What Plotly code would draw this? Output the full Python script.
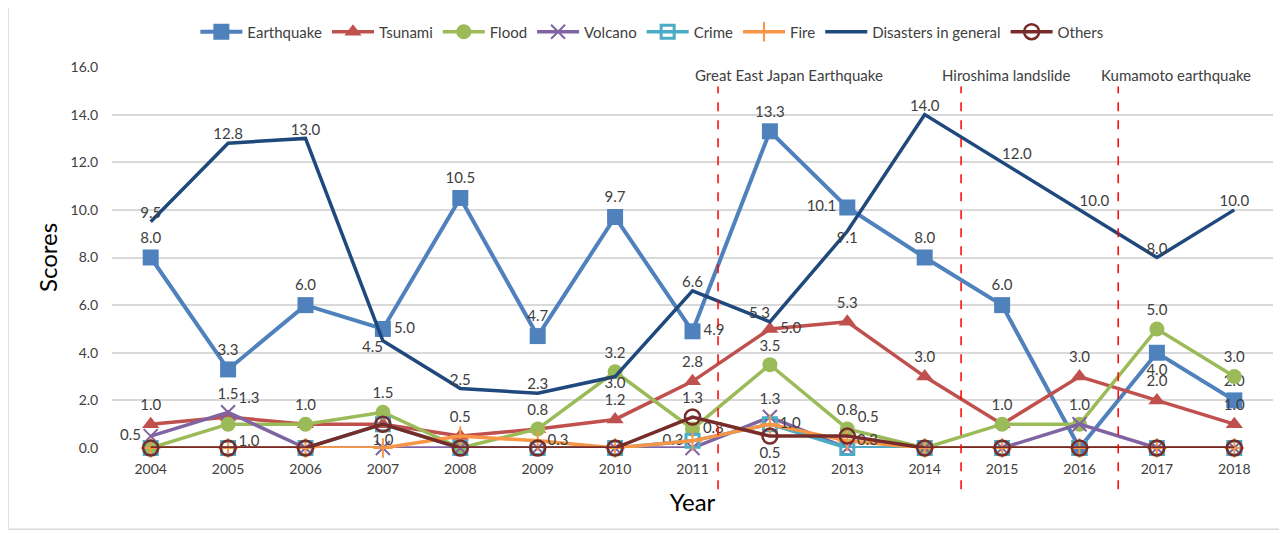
import plotly.graph_objects as go

years = list(range(2004, 2019))
earthquake = [8.0, 3.3, 6.0, 5.0, 10.5, 4.7, 9.7, 4.9, 13.3, 10.1, 8.0, 6.0, 0.0, 4.0, 2.0]
tsunami = [1.0, 1.3, 1.0, 1.0, 0.5, 0.8, 1.2, 2.8, 5.0, 5.3, 3.0, 1.0, 3.0, 2.0, 1.0]
flood = [0.0, 1.0, 1.0, 1.5, 0.0, 0.8, 3.2, 0.8, 3.5, 0.8, 0.0, 1.0, 1.0, 5.0, 3.0]
volcano = [0.5, 1.5, 0.0, 0.0, 0.0, 0.0, 0.0, 0.0, 1.3, 0.0, 0.0, 0.0, 1.0, 0.0, 0.0]
crime = [0.0, 0.0, 0.0, 1.0, 0.0, 0.0, 0.0, 0.3, 1.0, 0.0, 0.0, 0.0, 0.0, 0.0, 0.0]
fire = [0.0, 0.0, 0.0, 0.0, 0.5, 0.3, 0.0, 0.3, 1.0, 0.3, 0.0, 0.0, 0.0, 0.0, 0.0]
disasters = [9.5, 12.8, 13.0, 4.5, 2.5, 2.3, 3.0, 6.6, 5.3, 9.1, 14.0, 12.0, 10.0, 8.0, 10.0]
others = [0.0, 0.0, 0.0, 1.0, 0.0, 0.0, 0.0, 1.3, 0.5, 0.5, 0.0, 0.0, 0.0, 0.0, 0.0]

events = ["Great East Japan Earthquake", "Hiroshima landslide", "Kumamoto earthquake"]
event_x = [2011.33, 2014.47, 2016.5]
event_label_x = [2012.25, 2015.05, 2017.25]

FONT = "Lato"
TXT = "#404040"

# label positions (style): year -> textposition
lab = {
    "Earthquake": {2004: "top center", 2005: "top center", 2006: "top center", 2007: "middle right",
                   2008: "top center", 2009: "top center", 2010: "top center", 2011: "middle right",
                   2012: "top center", 2013: "middle left", 2014: "top center", 2015: "top center",
                   2017: "bottom center", 2018: "top center"},
    "Tsunami": {2004: "top center", 2005: "top right", 2008: "top center", 2010: "top center",
                2011: "top center", 2012: "middle right", 2013: "top center", 2014: "top center",
                2015: "top center", 2016: "top center", 2017: "top center", 2018: "top center"},
    "Flood": {2005: "bottom right", 2006: "top center", 2007: "top center", 2009: "top center",
              2010: "top center", 2011: "middle right", 2012: "top center", 2013: "top center",
              2016: "top center", 2017: "top center", 2018: "top center"},
    "Volcano": {2004: "middle left", 2005: "top center", 2012: "top center"},
    "Crime": {2007: "bottom center", 2011: "middle left"},
    "Fire": {2009: "middle right", 2012: "middle right", 2013: "middle right"},
    "Disasters in general": {2004: "top center", 2005: "top center", 2006: "top center",
                             2007: "bottom left", 2008: "top center", 2009: "top center",
                             2010: "bottom center", 2011: "top center", 2012: "top left",
                             2013: "bottom center", 2014: "top center", 2015: "top right",
                             2016: "top right", 2017: "top center", 2018: "top center"},
    "Others": {2011: "top center", 2012: "bottom center", 2013: "top right"},
}

series = [
    ("Earthquake", earthquake, "#4F81BD", dict(symbol="square", size=16, color="#4F81BD"), 4),
    ("Tsunami", tsunami, "#C0504D", dict(symbol="triangle-up", size=15, color="#C0504D"), 3.5),
    ("Flood", flood, "#9BBB59", dict(symbol="circle", size=15, color="#9BBB59"), 3.5),
    ("Volcano", volcano, "#8064A2", dict(symbol="x-thin", size=14, line=dict(color="#8064A2", width=2)), 3.5),
    ("Crime", crime, "#4BACC6", dict(symbol="square-open", size=13, color="#4BACC6", line=dict(width=3)), 3.5),
    ("Fire", fire, "#F79646", dict(symbol="cross-thin", size=14, line=dict(color="#F79646", width=2)), 3.5),
    ("Disasters in general", disasters, "#1F497D", None, 3.5),
    ("Others", others, "#772C2A", dict(symbol="circle-open", size=15, color="#772C2A", line=dict(width=2.5)), 3.5),
]

fig = go.Figure()
for name, vals, color, marker, lw in series:
    pos = lab[name]
    text = [f"{v:.1f}" if y in pos else "" for y, v in zip(years, vals)]
    tpos = [pos.get(y, "top center") for y in years]
    kw = dict(mode="lines+markers+text", marker=marker) if marker else dict(mode="lines+text")
    fig.add_trace(go.Scatter(
        x=years, y=vals, name=name, line=dict(color=color, width=lw),
        text=text, textposition=tpos, textfont=dict(family=FONT, size=15, color=TXT),
        cliponaxis=False, **kw))

shapes = []
for ex in event_x:
    shapes.append(dict(type="line", xref="x", yref="paper", x0=ex, x1=ex, y0=-0.108, y1=0.958,
                       line=dict(color="#FF0000", width=1.5, dash="dash")))
shapes.append(dict(type="rect", xref="paper", yref="paper", x0=-0.0896, x1=1.006, y0=-0.213, y1=1.157,
                   line=dict(color="#D9D9D9", width=1.5), fillcolor="rgba(0,0,0,0)"))
fig.update_layout(shapes=shapes)

for t, lx in zip(events, event_label_x):
    fig.add_annotation(x=lx, y=0.979, xref="x", yref="paper", text=t, showarrow=False,
                       xanchor="center", yanchor="middle",
                       font=dict(family=FONT, size=15, color=TXT), bgcolor="white",
                       borderpad=2)

# page body has an 8px margin, so the figure is 8px smaller and margins shifted
fig.update_layout(
    width=1279, height=526,
    margin=dict(l=104, r=14, t=59, b=86, autoexpand=False),
    paper_bgcolor="white", plot_bgcolor="white",
    font=dict(family=FONT, color=TXT, size=14),
    showlegend=True,
    legend=dict(orientation="h", x=0.465, xanchor="center", y=1.092, yanchor="middle",
                font=dict(family=FONT, size=15, color=TXT), itemwidth=42, traceorder="normal"),
    xaxis=dict(range=[2003.5, 2018.5], tickmode="array", tickvals=years, automargin=False,
               ticktext=[str(y) for y in years], showgrid=False, zeroline=False,
               showline=False, ticks="outside", ticklen=8, tickcolor="rgba(0,0,0,0)",
               tickfont=dict(family=FONT, size=14, color=TXT),
               title=dict(text="Year", font=dict(family=FONT, size=24, color="black"), standoff=18)),
    yaxis=dict(range=[0, 16], dtick=2, tickformat=".1f", showgrid=True, gridcolor="#D9D9D9",
               gridwidth=1.5, zeroline=False, showline=False, ticks="outside", ticklen=10,
               tickcolor="rgba(0,0,0,0)", automargin=False,
               tickfont=dict(family=FONT, size=14, color=TXT),
               title=dict(text="Scores", font=dict(family=FONT, size=24, color="black"), standoff=6)),
)

fig.write_html("out.html")
